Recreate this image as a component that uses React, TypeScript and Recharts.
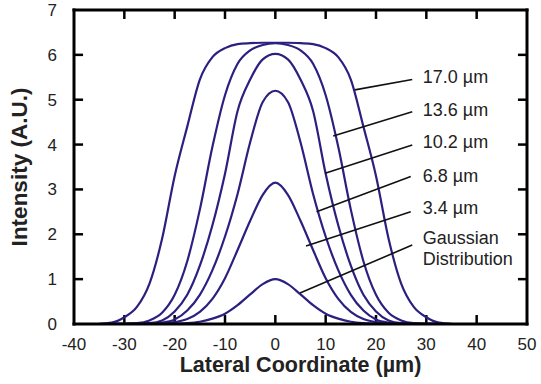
import React from 'react';
import { LineChart, Line, XAxis, YAxis, ReferenceLine, ReferenceDot } from 'recharts';

// lateral coordinate (µm), shared by every profile
const lateral = [-35, -32.5, -30, -27.5, -25, -22.5, -20, -17.5, -15, -12.5, -10, -7.5, -5, -2.5, 0, 2.5, 5, 7.5, 10, 12.5, 15, 17.5, 20, 22.5, 25, 27.5, 30, 32.5, 35];

// intensity profiles
const gaussian = [0, 0, 0, 0, 0, 0.005, 0.01, 0.02, 0.05, 0.12, 0.23, 0.42, 0.66, 0.89, 1.0, 0.89, 0.66, 0.42, 0.23, 0.12, 0.05, 0.02, 0.01, 0.005, 0, 0, 0, 0, 0];
const w34 = [0, 0, 0, 0, 0.005, 0.01, 0.04, 0.11, 0.27, 0.56, 1.02, 1.65, 2.3, 2.88, 3.15, 2.88, 2.3, 1.65, 1.02, 0.56, 0.27, 0.11, 0.04, 0.01, 0.005, 0, 0, 0, 0];
const w68 = [0, 0, 0, 0.005, 0.01, 0.03, 0.1, 0.3, 0.65, 1.2, 1.95, 2.9, 4.05, 4.95, 5.2, 4.95, 4.05, 2.9, 1.95, 1.2, 0.65, 0.3, 0.1, 0.03, 0.01, 0.005, 0, 0, 0];
const w102 = [0, 0, 0.005, 0.01, 0.02, 0.08, 0.28, 0.65, 1.3, 2.2, 3.35, 4.75, 5.45, 5.9, 6.02, 5.9, 5.45, 4.75, 3.35, 2.2, 1.3, 0.65, 0.28, 0.08, 0.02, 0.01, 0.005, 0, 0];
const w136 = [0, 0.005, 0.01, 0.02, 0.08, 0.25, 0.65, 1.4, 2.55, 3.95, 5.1, 5.8, 6.1, 6.22, 6.26, 6.22, 6.1, 5.8, 5.1, 3.95, 2.55, 1.4, 0.65, 0.25, 0.08, 0.02, 0.01, 0.005, 0];
const w170 = [0.005, 0.03, 0.15, 0.38, 0.9, 1.9, 3.3, 4.4, 5.45, 5.95, 6.15, 6.24, 6.26, 6.27, 6.27, 6.27, 6.26, 6.24, 6.15, 5.95, 5.45, 4.4, 3.3, 1.9, 0.9, 0.38, 0.15, 0.03, 0.005];

const xTicks = [-40, -30, -20, -10, 0, 10, 20, 30, 40, 50];
const yTicks = [0, 1, 2, 3, 4, 5, 6, 7];
const xInner = [-30, -20, -10, 0, 10, 20, 30, 40];
const yInner = [1, 2, 3, 4, 5, 6];

// callout texts and where they sit
const calloutText = ['17.0 µm', '13.6 µm', '10.2 µm', '6.8 µm', '3.4 µm', 'Gaussian', 'Distribution'];
const calloutTextY = [5.51, 4.79, 4.06, 3.31, 2.59, 1.92, 1.45];
const calloutTextX = 29.3;
// leader lines: from the text to the curve
const leaderFrom = [[27.2, 5.45], [27.2, 4.73], [27.2, 3.99], [26.9, 3.29], [26.9, 2.5], [27.2, 1.76]];
const leaderTo = [[15.8, 5.22], [11.5, 4.19], [9.9, 3.36], [8.2, 2.5], [6.1, 1.74], [4.9, 0.69]];

const data = lateral.map((x, i) => ({
  x,
  gaussian: gaussian[i],
  w34: w34[i],
  w68: w68[i],
  w102: w102[i],
  w136: w136[i],
  w170: w170[i],
}));

const seriesKeys = ['gaussian', 'w34', 'w68', 'w102', 'w136', 'w170'];

const FONT = '"Liberation Sans", Arial, Helvetica, sans-serif';
const CURVE = '#2b2080';
// inward tick length, in axis units (about 9px)
const TICK_X = 1.8;
const TICK_Y = 0.2;
const axisLine = { stroke: '#000', strokeWidth: 3, strokeLinecap: 'square' as const };

export default function App() {
  const tickSegs: { x: number; y: number }[][] = [];
  xInner.forEach((t) => {
    tickSegs.push([{ x: t, y: 0 }, { x: t, y: TICK_Y }]);
    tickSegs.push([{ x: t, y: 7 - TICK_Y }, { x: t, y: 7 }]);
  });
  yInner.forEach((t) => {
    tickSegs.push([{ x: -40, y: t }, { x: -40 + TICK_X, y: t }]);
    tickSegs.push([{ x: 50 - TICK_X, y: t }, { x: 50, y: t }]);
  });

  return (
    <div style={{ position: 'absolute', left: 0, top: 0, width: 541, height: 384, background: '#fff' }}>
      <LineChart
        width={541}
        height={384}
        data={data}
        margin={{ top: 10, right: 14, bottom: 0, left: 0 }}
        style={{ fontFamily: FONT }}
      >
        <XAxis
          dataKey="x"
          type="number"
          domain={[-40, 50]}
          ticks={xTicks}
          height={60}
          axisLine={axisLine}
          tickLine={false}
          tickMargin={8}
          tick={{ fontSize: 17, fill: '#222' }}
          label={{
            value: 'Lateral Coordinate (µm)',
            position: 'insideBottom',
            offset: 12,
            style: { fontSize: 21.5, fontWeight: 700, fill: '#222' },
          }}
        />
        <YAxis
          type="number"
          domain={[0, 7]}
          ticks={yTicks}
          width={74}
          axisLine={axisLine}
          tickLine={false}
          tickMargin={11}
          tick={{ fontSize: 17, fill: '#222' }}
          label={{
            value: 'Intensity (A.U.)',
            angle: -90,
            position: 'insideLeft',
            offset: 19,
            style: { fontSize: 22.5, fontWeight: 700, fill: '#222', textAnchor: 'middle' },
          }}
        />
        <XAxis
          xAxisId="top"
          orientation="top"
          mirror
          dataKey="x"
          type="number"
          domain={[-40, 50]}
          ticks={xTicks}
          axisLine={axisLine}
          tickLine={false}
          tick={false}
        />
        <YAxis
          yAxisId="right"
          orientation="right"
          mirror
          type="number"
          domain={[0, 7]}
          ticks={yTicks}
          axisLine={axisLine}
          tickLine={false}
          tick={false}
        />
        {tickSegs.map((s, i) => (
          <ReferenceLine key={'k' + i} segment={s} stroke="#000" strokeWidth={2.5} ifOverflow="visible" />
        ))}
        {seriesKeys.map((k) => (
          <Line
            key={k}
            dataKey={k}
            type="monotone"
            stroke={CURVE}
            strokeWidth={2.2}
            dot={false}
            activeDot={false}
            isAnimationActive={false}
          />
        ))}
        {leaderFrom.map((p, i) => (
          <ReferenceLine
            key={'l' + i}
            segment={[{ x: p[0], y: p[1] }, { x: leaderTo[i][0], y: leaderTo[i][1] }]}
            stroke="#111"
            strokeWidth={1.6}
          />
        ))}
        {calloutText.map((t, i) => (
          <ReferenceDot
            key={'t' + i}
            x={calloutTextX}
            y={calloutTextY[i]}
            r={0}
            fill="none"
            stroke="none"
            label={{ value: t, position: 'right', offset: 0, style: { fontSize: 18, fill: '#222' } }}
          />
        ))}
      </LineChart>
    </div>
  );
}
